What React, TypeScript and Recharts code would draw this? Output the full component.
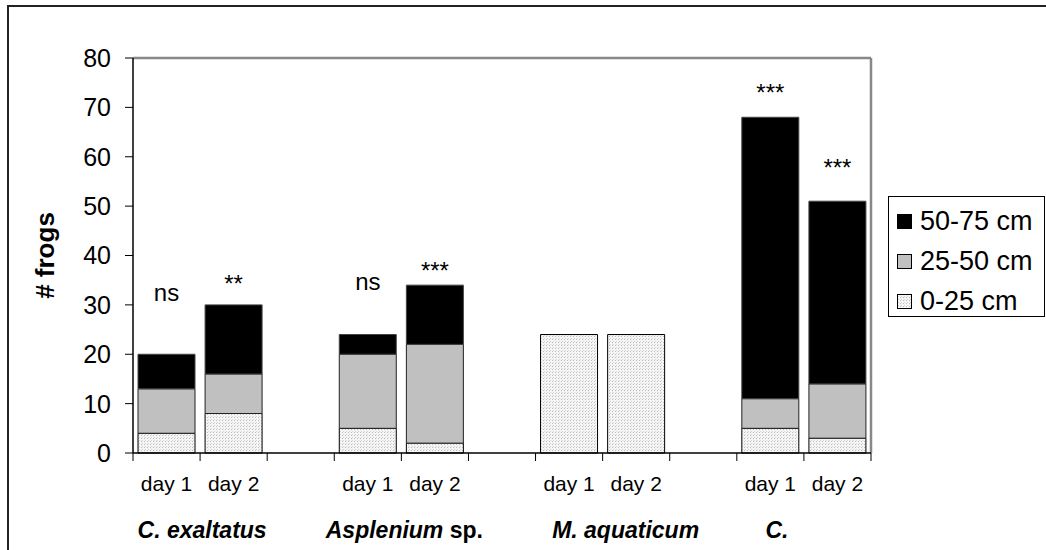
import React from 'react';
import { BarChart, Bar, XAxis, YAxis, ReferenceDot, ReferenceLine, Legend } from 'recharts';

// ---- data ----
const categoryKeys = ['ce1', 'ce2', 'gap1', 'as1', 'as2', 'gap2', 'ma1', 'ma2', 'gap3', 'c1', 'c2'];
const dayLabels = ['day 1', 'day 2', '', 'day 1', 'day 2', '', 'day 1', 'day 2', '', 'day 1', 'day 2'];
const low = [4, 8, 0, 5, 2, 0, 24, 24, 0, 5, 3];
const mid = [9, 8, 0, 15, 20, 0, 0, 0, 0, 6, 11];
const high = [7, 14, 0, 4, 12, 0, 0, 0, 0, 57, 37];
const seriesNames = ['0-25 cm', '25-50 cm', '50-75 cm'];
const groupLabels = ['C. exaltatus', 'Asplenium sp.', 'M. aquaticum', 'C.'];
const groupStartKeys = ['ce1', 'as1', 'ma1', 'c1'];
const yTicks = [0, 10, 20, 30, 40, 50, 60, 70, 80];
const sigKeys = ['ce1', 'ce2', 'as1', 'as2', 'c1', 'c2'];
const sigText = ['ns', '**', 'ns', '***', '***', '***'];
const sigY = [30.8, 32.7, 33.0, 35.3, 71.2, 56.2];

const data = categoryKeys.map((key, i) => ({
  key,
  day: dayLabels[i],
  low: low[i],
  mid: mid[i],
  high: high[i],
}));

// ---- layout ----
const W = 1046;
const H = 550;
const MARGIN = { top: 58, right: 175, bottom: 37, left: 73 };
const Y_AXIS_W = 60;
const X_AXIS_H = 60;
const PLOT_W = W - MARGIN.left - Y_AXIS_W - MARGIN.right;
const HALF_BAND = PLOT_W / categoryKeys.length / 2;
const GROUP_SHIFT = [2, 3, 23, -27];
const FONT = '"Liberation Sans", Arial, sans-serif';

const XTick = (props: any) => {
  const { x, y, payload } = props;
  const i = categoryKeys.indexOf(payload.value);
  const g = groupStartKeys.indexOf(payload.value);
  const last = i === categoryKeys.length - 1;
  let group: React.ReactNode = null;
  if (g >= 0) {
    const gx = x + HALF_BAND + GROUP_SHIFT[g];
    const label = groupLabels[g];
    group = (
      <text x={gx} y={y + 85} textAnchor="middle" fontSize={23} fontWeight="bold" fill="#000" fontFamily={FONT}>
        {label === 'Asplenium sp.' ? (
          <>
            <tspan fontStyle="italic">Asplenium</tspan>
            <tspan> sp.</tspan>
          </>
        ) : (
          <tspan fontStyle="italic">{label}</tspan>
        )}
      </text>
    );
  }
  return (
    <g>
      <line x1={x - HALF_BAND} x2={x - HALF_BAND} y1={y} y2={y + 8} stroke="#000" strokeWidth={1} />
      {last && (
        <>
          <line x1={x + HALF_BAND} x2={x + HALF_BAND} y1={y} y2={y + 8} stroke="#000" strokeWidth={1} />
        </>
      )}
      <text x={x} y={y + 38} textAnchor="middle" fontSize={21} fill="#000" fontFamily={FONT}>
        {dayLabels[i]}
      </text>
      {group}
    </g>
  );
};

const SigLabel = (text: string) => (props: any) => {
  const vb = props.viewBox || {};
  const cx = vb.x + (vb.width || 0) / 2;
  const cy = vb.y + (vb.height || 0) / 2;
  return (
    <text x={cx} y={cy} textAnchor="middle" fontSize={24} fill="#000" fontFamily={FONT}>
      {text}
    </text>
  );
};

const LegendBox = (props: any) => {
  const payload = (props.payload || []).slice().reverse();
  return (
    <div
      style={{
        width: 157,
        height: 121,
        border: '1px solid #000',
        boxSizing: 'border-box',
        background: '#fff',
        paddingTop: 4,
        fontFamily: FONT,
      }}
    >
      {payload.map((p: any, idx: number) => (
        <div key={idx} style={{ display: 'flex', alignItems: 'center', height: 40, paddingLeft: 8 }}>
          <svg width={15} height={15} style={{ marginRight: 8 }}>
            <rect x={0.5} y={0.5} width={14} height={14} fill={p.color} stroke="#000" strokeWidth={1} />
          </svg>
          <span style={{ fontSize: 27, color: '#000', lineHeight: '27px' }}>{p.value}</span>
        </div>
      ))}
    </div>
  );
};

export default function App() {
  return (
    <div style={{ position: 'absolute', left: 0, top: 0, width: W, height: H, overflow: 'hidden', background: '#fff' }}>
      <div
        style={{
          position: 'absolute',
          left: 7,
          top: 5,
          width: W + 50,
          height: H + 50,
          borderTop: '2px solid #222',
          borderLeft: '2px solid #222',
        }}
      />
      <div style={{ position: 'absolute', left: 0, top: 0 }}>
        <BarChart width={W} height={H} data={data} margin={MARGIN} barCategoryGap={5}>
          <defs>
            <pattern id="dots" width="3" height="3" patternUnits="userSpaceOnUse">
              <rect width="3" height="3" fill="#f5f5f5" />
              <rect x="0" y="0" width="1" height="1" fill="#bdbdbd" />
              <rect x="1" y="2" width="1" height="1" fill="#d6d6d6" />
            </pattern>
          </defs>
          <ReferenceLine y={80} stroke="#888" strokeWidth={2.5} ifOverflow="visible" />
          <ReferenceLine
            x={categoryKeys[categoryKeys.length - 1]}
            position="end"
            stroke="#888"
            strokeWidth={2.5}
            ifOverflow="visible"
          />
          <Bar dataKey="low" stackId="s" name={seriesNames[0]} fill="url(#dots)" stroke="#000" strokeWidth={1} isAnimationActive={false} />
          <Bar dataKey="mid" stackId="s" name={seriesNames[1]} fill="#c0c0c0" stroke="#222" strokeWidth={1} isAnimationActive={false} />
          <Bar dataKey="high" stackId="s" name={seriesNames[2]} fill="#000" stroke="#444" strokeWidth={1} isAnimationActive={false} />
          <XAxis
            dataKey="key"
            interval={0}
            height={X_AXIS_H}
            tickLine={false}
            tickSize={0}
            tickMargin={0}
            axisLine={{ stroke: '#000', strokeWidth: 1.5 }}
            tick={<XTick />}
          />
          <YAxis
            domain={[0, 80]}
            ticks={yTicks}
            width={Y_AXIS_W}
            tickSize={8}
            tickMargin={14}
            interval={0}
            axisLine={{ stroke: '#000', strokeWidth: 1.5 }}
            tickLine={{ stroke: '#000', strokeWidth: 1 }}
            tick={{ fontSize: 25, fill: '#000', fontFamily: FONT }}
            label={{
              content: (p: any) => {
                const vb = p.viewBox || {};
                const cx = vb.x - 28;
                const cy = vb.y + vb.height / 2;
                return (
                  <text
                    x={cx}
                    y={cy}
                    transform={`rotate(-90 ${cx} ${cy})`}
                    textAnchor="middle"
                    dominantBaseline="central"
                    fontSize={26}
                    fontWeight="bold"
                    fill="#000"
                    fontFamily={FONT}
                  >
                    # frogs
                  </text>
                );
              },
            }}
          />
          {sigKeys.map((k, i) => (
            <ReferenceDot
              key={k}
              x={k}
              y={sigY[i]}
              r={1}
              fill="none"
              stroke="none"
              ifOverflow="visible"
              label={{ content: SigLabel(sigText[i]) }}
            />
          ))}
          <Legend
            layout="vertical"
            align="center"
            verticalAlign="middle"
            content={<LegendBox />}
            wrapperStyle={{ left: 888, top: 196, width: 157, height: 121 }}
          />
        </BarChart>
      </div>
    </div>
  );
}
